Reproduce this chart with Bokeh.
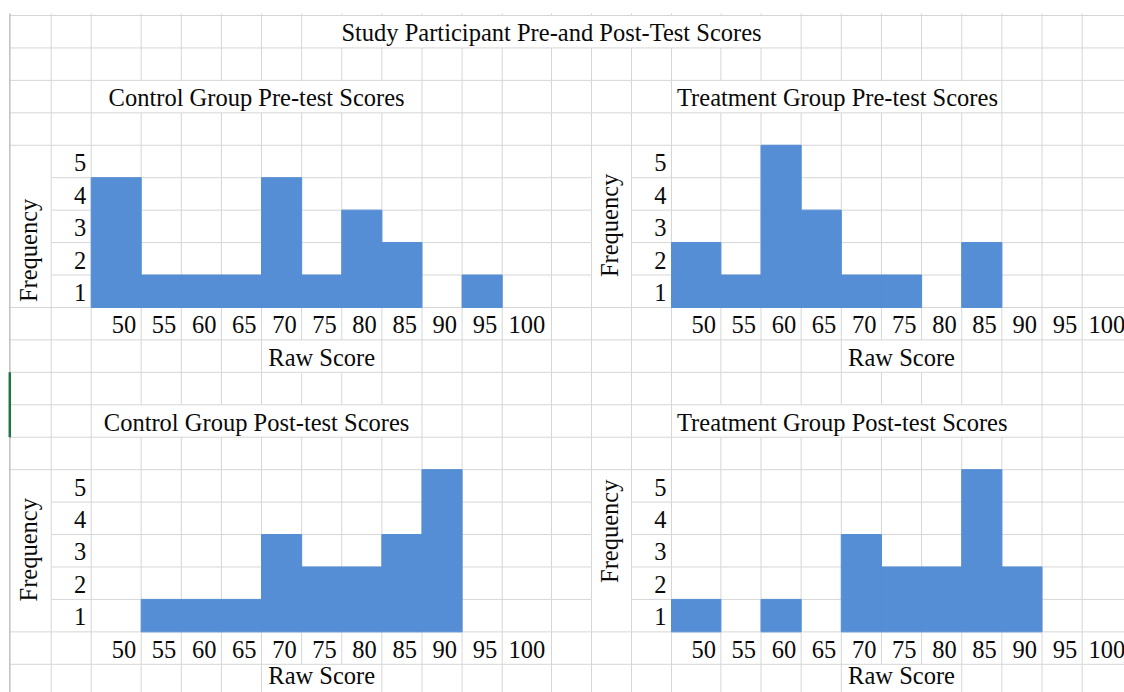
import math
from bokeh.plotting import figure
from bokeh.models import Range1d, ColumnDataSource
from bokeh.core.properties import value
from bokeh.embed import file_html
from bokeh.resources import INLINE

# ---------------- data ----------------
SHEET_TITLE = "Study Participant Pre-and Post-Test Scores"
BIN_LABELS = ["50", "55", "60", "65", "70", "75", "80", "85", "90", "95", "100"]
FREQ_LABELS = ["5", "4", "3", "2", "1"]
Y_TITLE = "Frequency"
X_TITLE = "Raw Score"

control_pre_title = "Control Group Pre-test Scores"
control_pre = [4, 1, 1, 1, 4, 1, 3, 2, 0, 1, 0]
treatment_pre_title = "Treatment Group Pre-test Scores"
treatment_pre = [2, 1, 5, 3, 1, 1, 0, 2, 0, 0, 0]
control_post_title = "Control Group Post-test Scores"
control_post = [0, 1, 1, 1, 3, 2, 2, 3, 5, 0, 0]
treatment_post_title = "Treatment Group Post-test Scores"
treatment_post = [1, 0, 1, 0, 3, 2, 2, 5, 2, 0, 0]

# ---------------- sheet layout ----------------
FONT = "Liberation Serif"
FSIZE = "24.5px"
BAR_COLOR = "#558ED5"
GRID_COLOR = "#D6D6D6"
W, H = 1124, 692
ROW0 = 15.0          # page y of first row line
ROW_H = 32.44        # row height (px)
X0 = 9.3             # page x of first column line
COL_W = [41.4, 40.0, 50.0] + [40.11] * 9 + [49.3, 40.0, 40.0, 40.0, 49.4] + [40.14] * 9 + [49.4]
EDGES = [X0]
for w in COL_W:
    EDGES.append(EDGES[-1] + w)
N_ROWS = 21
PAD = 5.0
BASE_OFF = 15.0 / ROW_H      # text anchor above row bottom
R_TOP = (0 - ROW0) / ROW_H
R_BOT = (H - ROW0) / ROW_H
R_TEXT_MAX = (675 - ROW0) / ROW_H   # keep the lowest texts inside the page

# panels: (title, freqs, block first column, title row, title mode, frequency-label centre row)
panels = [
    (control_pre_title, control_pre, 0, 2, "center", 7.24),
    (treatment_pre_title, treatment_pre, 14, 2, "left", 6.47),
    (control_post_title, control_post, 0, 12, "center", 16.47),
    (treatment_post_title, treatment_post, 14, 12, "left", 15.90),
]

# hidden vertical grid lines (text overflow / merged cells): row -> x intervals
hidden_v = {
    0: [(340, 763)],
    2: [(130, 400), (700, 998)],
    12: [(130, 400), (700, 1010)],
    10: [(290, 350), (870, 930)],
    20: [(290, 350), (870, 930)],
}
# hidden horizontal lines inside merged "Frequency" cells: (row line, column)
hidden_h = set()
for k in [5, 6, 7, 8, 15, 16, 17, 18]:
    for c in [0, 14]:
        hidden_h.add((k, c))

p = figure(width=W, height=H, output_backend="svg", toolbar_location=None,
           x_range=Range1d(0, W), y_range=Range1d(R_BOT, R_TOP),
           x_axis_type=None, y_axis_type=None, min_border=0,
           background_fill_color="white", border_fill_color="white",
           outline_line_color=None)

# ---- grid lines ----
vx0, vy0, vx1, vy1 = [], [], [], []
for x in EDGES:
    vx0.append(x); vy0.append(-2.0 / ROW_H); vx1.append(x); vy1.append(0)
    for r in range(N_ROWS + 1):
        hid = any(lo < x < hi for lo, hi in hidden_v.get(r, []))
        if not hid:
            vx0.append(x); vy0.append(r); vx1.append(x); vy1.append(r + 1)
hx0, hy0, hx1, hy1 = [], [], [], []
for k in range(N_ROWS + 2):
    for c in range(len(EDGES) - 1):
        if (k, c) in hidden_h:
            continue
        hx0.append(EDGES[c]); hx1.append(EDGES[c + 1]); hy0.append(k); hy1.append(k)
p.segment(x0=vx0, y0=vy0, x1=vx1, y1=vy1, line_color=GRID_COLOR, line_width=1)
p.segment(x0=hx0, y0=hy0, x1=hx1, y1=hy1, line_color=GRID_COLOR, line_width=1)
# sheet left border and selected cell marker
p.segment(x0=[X0], y0=[-2.0 / ROW_H], x1=[X0], y1=[N_ROWS + 1], line_color="#C4C4C4", line_width=1.5)
p.segment(x0=[X0], y0=[11], x1=[X0], y1=[13], line_color="#217346", line_width=2.5)

# ---- bars ----
bl, br, bt, bb = [], [], [], []
for title, freqs, c0, trow, mode, fc in panels:
    base = trow + 7
    for i, f in enumerate(freqs):
        if f > 0:
            bl.append(EDGES[c0 + 2 + i]); br.append(EDGES[c0 + 3 + i])
            bb.append(base); bt.append(base - f)
p.quad(left=bl, right=br, top=bt, bottom=bb, fill_color=BAR_COLOR,
       line_color=BAR_COLOR, line_width=1)

# ---- texts ----
def add_text(xs, ys, texts, align, angle=0.0):
    src = ColumnDataSource(dict(x=xs, y=ys, text=texts))
    p.text(x="x", y="y", text="text", source=src, angle=angle,
           text_font=value(FONT), text_font_size=value(FSIZE),
           text_align=align, text_baseline="alphabetic", text_color="#0A0A0A")

def baseline(row):
    return min(row + 1 - BASE_OFF, R_TEXT_MAX)

add_text([EDGES[13]], [baseline(0)], [SHEET_TITLE], "center")

for title, freqs, c0, trow, mode, fc in panels:
    # panel title
    if mode == "center":
        add_text([(EDGES[c0 + 2] + EDGES[c0 + 10]) / 2], [baseline(trow)], [title], "center")
    else:
        add_text([EDGES[c0 + 2] + 5.5], [baseline(trow)], [title], "left")
    # frequency labels
    add_text([EDGES[c0 + 2] - PAD] * len(FREQ_LABELS),
             [baseline(trow + 2 + j) for j in range(len(FREQ_LABELS))],
             FREQ_LABELS, "right")
    # bin labels
    trow_ticks = trow + 7
    add_text([EDGES[c0 + 3 + i] - PAD for i in range(len(BIN_LABELS) - 1)],
             [baseline(trow_ticks)] * (len(BIN_LABELS) - 1), BIN_LABELS[:-1], "right")
    last = len(BIN_LABELS) - 1
    add_text([(EDGES[c0 + 2 + last] + EDGES[c0 + 3 + last]) / 2], [baseline(trow_ticks)],
             [BIN_LABELS[-1]], "center")
    # x title
    add_text([(EDGES[c0 + 7] + EDGES[c0 + 8]) / 2], [baseline(trow + 8)], [X_TITLE], "center")
    # y title (rotated)
    add_text([EDGES[c0] + 18.5], [fc], [Y_TITLE], "center", angle=math.pi / 2)

open("out.html", "w").write(file_html(p, INLINE))
